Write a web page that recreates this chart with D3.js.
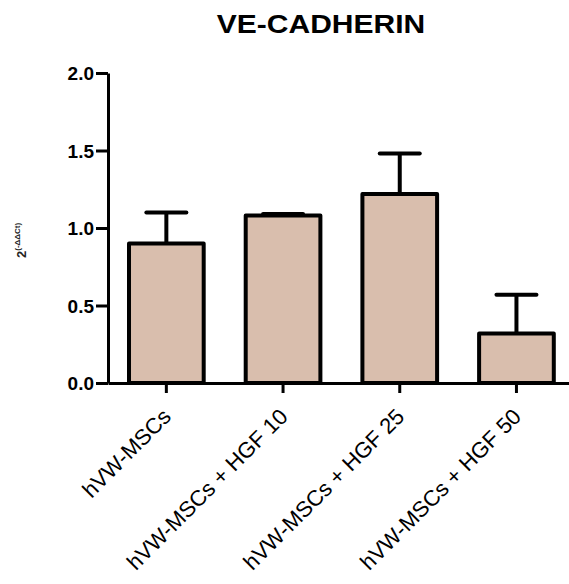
<!DOCTYPE html>
<html>
<head>
<meta charset="utf-8">
<script src="https://cdn.jsdelivr.net/npm/d3@7"></script>
<style>
  body { margin: 0; background: #fff; }
  .axis path, .axis line { stroke: #000; stroke-width: 3px; }
  .axis-y text { font-family: "Liberation Sans", Arial, sans-serif; font-weight: bold; font-size: 19px; fill: #000; }
  .axis-x text { font-family: "Liberation Sans", Arial, sans-serif; font-size: 22px; fill: #000; }
</style>
</head>
<body>
<div id="diagram"></div>
<script>
// groups and 2^-ddCt values
var categories = ["hVW-MSCs", "hVW-MSCs + HGF 10", "hVW-MSCs + HGF 25", "hVW-MSCs + HGF 50"];
var means = [0.90, 1.08, 1.22, 0.32];
var errors = [0.20, 0.01, 0.26, 0.25];   // upper error (SD)
var yTicks = [0.0, 0.5, 1.0, 1.5, 2.0];

(function drawChart () {
	var W = 569, H = 584;
	var left = 108, top = 73, bottom = 383;

	var data = categories.map(function (c, i) {
		return {name: c, mean: means[i], err: errors[i]};
	});

	var xScale = d3.scaleBand()
		.domain(categories)
		.range([left, left + 4 * 116.7]);

	var yScale = d3.scaleLinear()
		.domain([0, 2])
		.range([bottom, top]);

	var barW = xScale.bandwidth() * 0.64;

	var svg = d3.select("div#diagram")
		.append("svg")
		.attr("width", W)
		.attr("height", H);

	// title
	svg.append("text")
		.attr("transform", "translate(321,33) scale(1.2,1)")
		.attr("text-anchor", "middle")
		.style("font-family", "Liberation Sans, Arial, sans-serif")
		.style("font-weight", "bold")
		.style("font-size", "25px")
		.text("VE-CADHERIN");

	// y label 2^(-ddCt)
	var yl = svg.append("text")
		.attr("transform", "translate(26,258) rotate(-90)")
		.style("font-family", "Liberation Sans, Arial, sans-serif")
		.style("font-weight", "bold")
		.style("fill", "#222");
	yl.append("tspan").style("font-size", "13px").text("2");
	yl.append("tspan").style("font-size", "8px").attr("dy", "-6").text("(-\u0394\u0394Ct)");

	// error bars (drawn first, bar covers lower part)
	var eb = svg.append("g").attr("class", "errors");
	eb.selectAll("line.stem")
		.data(data)
		.enter()
		.append("line")
		.attr("x1", function (d) { return xScale(d.name) + xScale.bandwidth() / 2; })
		.attr("x2", function (d) { return xScale(d.name) + xScale.bandwidth() / 2; })
		.attr("y1", function (d) { return yScale(d.mean); })
		.attr("y2", function (d) { return yScale(d.mean + d.err); })
		.style("stroke", "#000").style("stroke-width", 4);
	eb.selectAll("line.cap")
		.data(data)
		.enter()
		.append("line")
		.attr("x1", function (d) { return xScale(d.name) + xScale.bandwidth() / 2 - 20; })
		.attr("x2", function (d) { return xScale(d.name) + xScale.bandwidth() / 2 + 20; })
		.attr("y1", function (d) { return yScale(d.mean + d.err); })
		.attr("y2", function (d) { return yScale(d.mean + d.err); })
		.style("stroke", "#000").style("stroke-width", 4)
		.style("stroke-linecap", "round");

	svg.selectAll("rect.bar")
		.data(data)
		.enter()
		.append("rect")
		.attr("class", "bar")
		.attr("x", function (d) { return xScale(d.name) + (xScale.bandwidth() - barW) / 2; })
		.attr("y", function (d) { return yScale(d.mean); })
		.attr("width", barW)
		.attr("height", function (d) { return bottom - yScale(d.mean); })
		.style("fill", "#d9bead")
		.style("stroke", "#000")
		.style("stroke-width", 4)
		.style("stroke-linejoin", "round");

	// x axis
	var xAxis = svg.append("g")
		.attr("class", "axis axis-x")
		.attr("transform", "translate(0," + bottom + ")")
		.call(d3.axisBottom(xScale).tickSize(10).tickSizeOuter(0));
	xAxis.selectAll("text")
		.style("text-anchor", "end")
		.attr("x", 0).attr("y", 0)
		.attr("dy", 0)
		.attr("transform", "translate(6,35) rotate(-45)");

	// y axis
	svg.append("g")
		.attr("class", "axis axis-y")
		.attr("transform", "translate(" + left + ",0)")
		.call(d3.axisLeft(yScale).tickValues(yTicks).tickFormat(d3.format(".1f")).tickSize(12).tickSizeOuter(0).tickPadding(2))
		.selectAll("text")
		.attr("dy", "0.36em");
})();
</script>
</body>
</html>
